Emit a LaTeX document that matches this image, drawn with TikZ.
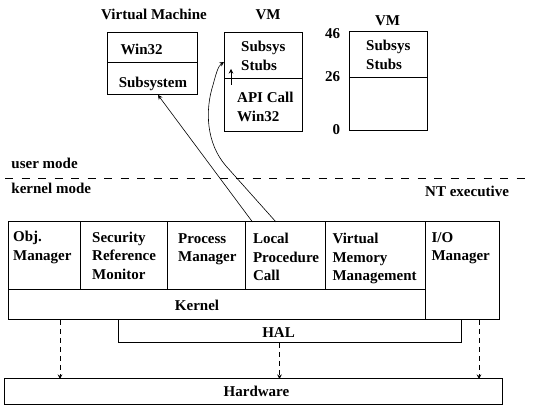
\documentclass[tikz,border=0pt]{standalone}
\usepackage{fontspec}
\setmainfont{Liberation Serif}
\usetikzlibrary{positioning,arrows.meta}

\begin{document}
\begin{tikzpicture}[x=1pt,y=-1pt,>={Stealth[length=4.5pt,width=4.5pt]},line width=1pt,
    box node/.style={draw,anchor=north west,inner sep=0pt,outer sep=0pt},
    text node/.style={anchor=north west,inner sep=0pt,align=left,font=\fontsize{15}{18.5}\selectfont\bfseries},
    label node/.style={anchor=base,inner sep=0pt,font=\fontsize{15}{18.5}\selectfont\bfseries},
    thin arrow/.style={->,line width=0.6pt},
    dash arrow/.style={->,line width=0.8pt,dash pattern=on 5pt off 4pt}]
    \useasboundingbox (0,0) rectangle (533,411);

    % user mode boxes
    \node[box node,minimum width=90,minimum height=30] (w1) at (107,33) {};
    \node[box node,minimum width=90,minimum height=32] (w2) [below right=0pt of w1.south west] {};
    \node[box node,minimum width=78,minimum height=46] (v1) at (224,33) {};
    \node[box node,minimum width=78,minimum height=53] (v2) [below right=0pt of v1.south west] {};
    \node[box node,minimum width=78,minimum height=46] (v3) at (349,32) {};
    \node[box node,minimum width=78,minimum height=53] (v4) [below right=0pt of v3.south west] {};

    \node[label node] (a) at (154,20) {Virtual Machine};
    \node[label node] (b) at (268,20) {VM};
    \node[label node] (c) at (387.5,26) {VM};
    \node[text node] (d) at (120,43.3) {Win32};
    \node[text node] (e) at (118.3,76.7) {Subsystem};
    \node[text node] (f) at (240.7,40.7) {Subsys\\Stubs};
    \node[text node] (g) at (236.7,91.7) {API Call\\Win32};
    \node[text node] (h) at (365.7,40) {Subsys\\Stubs};
    \node[label node,anchor=base east] (n1) at (340.5,38.3) {46};
    \node[label node,anchor=base east] (n2) at (340.5,81.7) {26};
    \node[label node,anchor=base east] (n3) at (340.5,135) {0};

    % mode line
    \draw[line width=1pt,dash pattern=on 8pt off 8.5pt] (5,179) -- (533,179);
    \node[label node,anchor=base west] (um) at (11,168.5) {user mode};
    \node[label node,anchor=base west] (km) at (11,194) {kernel mode};
    \node[label node,anchor=base west] (nt) at (424.7,196.7) {NT executive};

    % executive
    \node[box node,minimum width=72,minimum height=68] (obj) at (8,222) {};
    \node[box node,minimum width=87,minimum height=68] (sec) [right=0pt of obj] {};
    \node[box node,minimum width=78,minimum height=68] (proc) [right=0pt of sec] {};
    \node[box node,minimum width=80,minimum height=68] (lpc) [right=0pt of proc] {};
    \node[box node,minimum width=100,minimum height=68] (vmm) [right=0pt of lpc] {};
    \node[box node,minimum width=74,minimum height=98] (io) at (vmm.north east) {};
    \node[box node,minimum width=417,minimum height=30] (ker) [below right=0pt of obj.south west] {};
    \node[box node,minimum width=343,minimum height=23] (hal) at (118,320) {};
    \node[box node,minimum width=498,minimum height=26] (hw) at (4,379) {};

    \node[text node] (i) at (12.7,231) {Obj.\\Manager};
    \node[text node] (j) at (91.7,231.5) {Security\\Reference\\Monitor};
    \node[text node] (k) at (177.7,233) {Process\\Manager};
    \node[text node] (l) at (252.5,233) {Local\\Procedure\\Call};
    \node[text node] (m) at (332,232.7) {Virtual\\Memory\\Management};
    \node[text node] (n) at (431,232) {I/O\\Manager};
    \node[label node] (o) at (197,310.7) {Kernel};
    \node[label node] (p) at (278.5,337.3) {HAL};
    \node[label node] (q) at (256.5,397) {Hardware};

    % calls
    \draw[thin arrow] ([xshift=7.5]lpc.north west) -- ([xshift=6]w2.south);
    \draw[thin arrow] ([xshift=31]lpc.north west) -- (226,166)
        .. controls (206,143) and (205,110) .. (213,85)
        .. controls (216,74) and (218,66) .. ([yshift=-6]v1.west);
    \draw[thin arrow] ([xshift=7,yshift=-6]v1.south west) -- ([xshift=7,yshift=10]v1.south west);

    \draw[dash arrow] ([xshift=52]ker.south west) -- ([xshift=56]hw.north west);
    \draw[dash arrow] ([xshift=-10]hal.south) -- ([xshift=275.5]hw.north west);
    \draw[dash arrow] ([xshift=17]io.south) -- ([xshift=-23]hw.north east);
\end{tikzpicture}
\end{document}
